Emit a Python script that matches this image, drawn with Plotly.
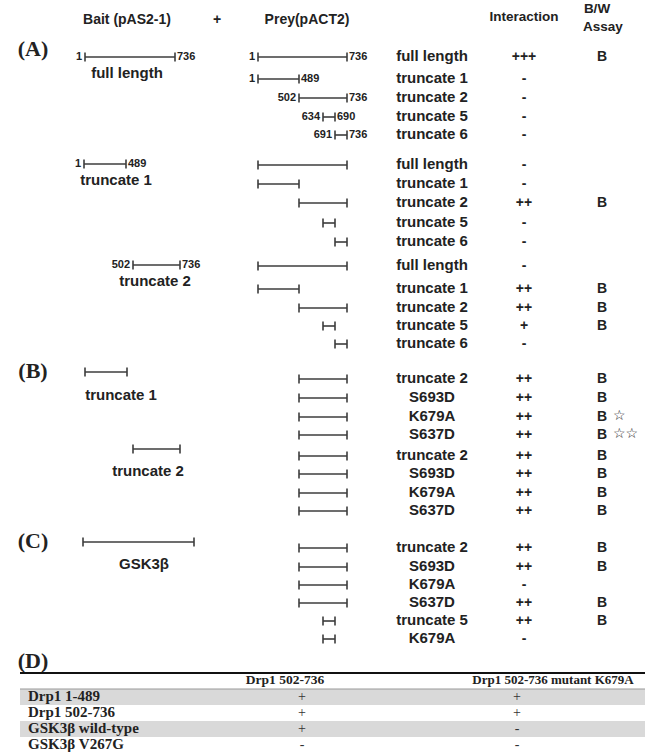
import numpy as np
import plotly.graph_objects as go
from collections import defaultdict

# ---------------- data ----------------
bait_A_names = ["full length", "truncate 1", "truncate 2"]
bait_A_start = [1, 1, 502]
bait_A_end = [736, 489, 736]

prey_A_names = ["full length", "truncate 1", "truncate 2", "truncate 5", "truncate 6"]
prey_A_start = [1, 1, 502, 634, 691]
prey_A_end = [736, 489, 736, 690, 736]

inter_A1 = ["+++", "-", "-", "-", "-"]
bw_A1 = ["B", "", "", "", ""]
inter_A2 = ["-", "-", "++", "-", "-"]
bw_A2 = ["", "", "B", "", ""]
inter_A3 = ["-", "++", "++", "+", "-"]
bw_A3 = ["", "B", "B", "B", ""]

bait_B_names = ["truncate 1", "truncate 2"]
bait_B_start = [1, 502]
bait_B_end = [489, 736]
prey_B_names = ["truncate 2", "S693D", "K679A", "S637D"]
prey_B_start = [502, 502, 502, 502]
prey_B_end = [736, 736, 736, 736]
inter_B1 = ["++", "++", "++", "++"]
bw_B1 = ["B", "B", "B", "B"]
stars_B1 = ["", "", "☆", "☆☆"]
inter_B2 = ["++", "++", "++", "++"]
bw_B2 = ["B", "B", "B", "B"]

bait_C_name = "GSK3β"
bait_C_len = 420
prey_C_names = ["truncate 2", "S693D", "K679A", "S637D", "truncate 5", "K679A"]
prey_C_start = [502, 502, 502, 502, 634, 634]
prey_C_end = [736, 736, 736, 736, 690, 690]
inter_C = ["++", "++", "-", "++", "++", "-"]
bw_C = ["B", "B", "", "B", "B", ""]

table_cols = ["Drp1 502-736", "Drp1 502-736 mutant K679A"]
table_rows = ["Drp1 1-489", "Drp1 502-736", "GSK3β wild-type", "GSK3β V267G"]
table_wt = ["+", "+", "+", "-"]
table_mut = ["+", "+", "-", "-"]

# ---------------- schematic scales ----------------
def prey_x(r):
    return np.interp(r, [1, 489, 502, 634, 690, 691, 736],
                     [258, 299, 299, 323, 335, 335, 347])

def bait_x(r, off):
    return off + np.interp(r, [1, 489, 502, 736], [0, 42, 43, 90])

SANS = "Liberation Sans, Arial, sans-serif"
SERIF = "Liberation Serif, Times New Roman, serif"
INK = "#222222"
LINE = "#3c3c3c"

seg_x, seg_y = [], []
def add_seg(x0, x1, y, cap=4.5):
    seg_x.extend([x0, x0, None, x0, x1, None, x1, x1, None])
    seg_y.extend([y - cap, y + cap, None, y, y, None, y - cap, y + cap, None])

texts = []
def T(x, y, s, size=15, font=SANS, anchor="center", bold=True, color=INK):
    texts.append((x, y, s, size, font, anchor, bold, color))

X_LABEL, X_INT, X_BW = 432, 524, 602

# header
T(127, 20, "Bait (pAS2-1)", 14)
T(217, 20, "+", 14)
T(307, 20, "Prey(pACT2)", 14)
T(524, 18, "Interaction", 13.5)
T(597, 10, "B/W", 13.5)
T(603, 28, "Assay", 13.5)

# panel A
T(33, 50, "(A)", 22, SERIF)
blocksA = [
    ([57, 79, 98, 117, 135], 0, 85, inter_A1, bw_A1, True),
    ([165, 184, 203, 223, 242], 1, 84, inter_A2, bw_A2, False),
    ([266, 289, 308, 326, 344], 2, 90, inter_A3, bw_A3, False),
]
bait_label_x = [127, 116, 155]
for rows, bi, off, inter, bw, shownum in blocksA:
    by = rows[0] - (1 if bi else 0)
    bx0 = float(bait_x(bait_A_start[bi], off))
    bx1 = float(bait_x(bait_A_end[bi], off))
    add_seg(bx0, bx1, by)
    T(bx0 - 3, by, str(bait_A_start[bi]), 11, anchor="right")
    T(bx1 + 2, by, str(bait_A_end[bi]), 11, anchor="left")
    T(bait_label_x[bi], by + 17, bait_A_names[bi], 15)
    for k, y in enumerate(rows):
        px0 = float(prey_x(prey_A_start[k]))
        px1 = float(prey_x(prey_A_end[k]))
        add_seg(px0, px1, y)
        if shownum:
            T(px0 - 3, y, str(prey_A_start[k]), 11, anchor="right")
            T(px1 + 2, y, str(prey_A_end[k]), 11, anchor="left")
        T(X_LABEL, y, prey_A_names[k], 15)
        T(X_INT, y, inter[k], 14)
        if bw[k]:
            T(X_BW, y, bw[k], 14)

# panel B
T(33, 372, "(B)", 22, SERIF)
blocksB = [([379, 398, 417, 435], 0, 85, inter_B1, bw_B1, stars_B1, 121),
           ([456, 474, 493, 511], 1, 90, inter_B2, bw_B2, None, 148)]
for rows, bi, off, inter, bw, stars, lx in blocksB:
    by = rows[0] - 7
    add_seg(float(bait_x(bait_B_start[bi], off)), float(bait_x(bait_B_end[bi], off)), by)
    T(lx, rows[1] - 2, bait_B_names[bi], 15)
    for k, y in enumerate(rows):
        add_seg(float(prey_x(prey_B_start[k])), float(prey_x(prey_B_end[k])), y)
        T(X_LABEL, y, prey_B_names[k], 15)
        T(X_INT, y, inter[k], 14)
        T(X_BW, y, bw[k], 14)
        if stars and stars[k]:
            T(613, y - 1, stars[k], 14, font="DejaVu Sans", anchor="left", bold=False,
              color="#1a1a1a")

# panel C
rowsC = [548, 567, 585, 603, 621, 639]
T(33, 542, "(C)", 22, SERIF)
add_seg(83, 83 + (bait_C_len - 1) / 419 * 111, 542)
T(144, 565, bait_C_name, 15)
for k, y in enumerate(rowsC):
    add_seg(float(prey_x(prey_C_start[k])), float(prey_x(prey_C_end[k])), y)
    T(X_LABEL, y, prey_C_names[k], 15)
    T(X_INT, y, inter_C[k], 14)
    if bw_C[k]:
        T(X_BW, y, bw_C[k], 14)

# panel D (table)
T(33, 662, "(D)", 22, SERIF)
rowsD = [697, 713, 729, 745]
shapes = []
for k, y in enumerate(rowsD):
    if k % 2 == 0:
        shapes.append(dict(type="rect", xref="x", yref="y", x0=20, x1=645,
                           y0=y - 8, y1=y + 8, fillcolor="#d9d9d9", line_width=0, layer="below"))
shapes.append(dict(type="line", xref="x", yref="y", x0=20, x1=645, y0=673, y1=673,
                   line=dict(color="#111", width=2)))
shapes.append(dict(type="line", xref="x", yref="y", x0=20, x1=645, y0=689, y1=689,
                   line=dict(color="#999", width=1)))
T(285, 681, table_cols[0], 13.5, SERIF)
T(553, 681, table_cols[1], 13, SERIF)
for k, y in enumerate(rowsD):
    T(28, y, table_rows[k], 15, SERIF, anchor="left")
    T(302, y, table_wt[k], 14, SERIF, bold=False, color="#333")
    T(517, y, table_mut[k], 14, SERIF, bold=False, color="#333")

fig = go.Figure()
fig.add_trace(go.Scatter(x=seg_x, y=seg_y, mode="lines",
                         line=dict(color=LINE, width=1.6), hoverinfo="skip"))

groups = defaultdict(lambda: ([], [], []))
for x, y, s, size, font, anchor, bold, color in texts:
    g = groups[(size, font, anchor, bold, color)]
    g[0].append(x); g[1].append(y); g[2].append(s)
pos = {"center": "middle center", "left": "middle right", "right": "middle left"}
for (size, font, anchor, bold, color), (xs, ys, ss) in groups.items():
    fig.add_trace(go.Scatter(x=xs, y=ys, text=ss, mode="text",
                             textposition=pos[anchor],
                             textfont=dict(size=size, family=font, color=color,
                                           weight="bold" if bold else "normal"),
                             hoverinfo="skip"))

fig.update_layout(width=645, height=754, margin=dict(l=0, r=0, t=0, b=0),
                  paper_bgcolor="white", plot_bgcolor="white", showlegend=False,
                  shapes=shapes,
                  xaxis=dict(range=[0, 645], visible=False, fixedrange=True),
                  yaxis=dict(range=[754, 0], visible=False, fixedrange=True))
fig.write_html("out.html", config={"displayModeBar": False, "staticPlot": True},
               post_script="document.body.style.margin='0';document.body.style.overflow='hidden';")
